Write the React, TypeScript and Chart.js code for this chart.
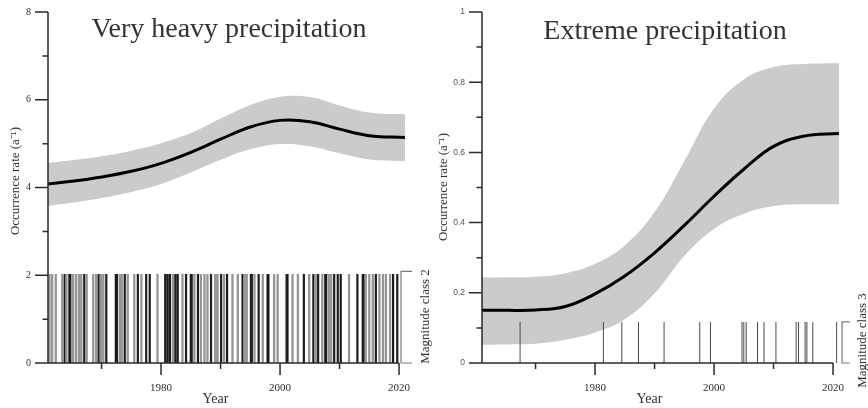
import React, { useEffect, useRef } from "react";
import { Chart, registerables } from "chart.js";

Chart.register(...registerables);

// ---------- data ----------
const curveYears = [1961, 1965, 1970, 1975, 1980, 1985, 1990, 1995, 2000, 2005, 2010, 2015, 2021];

const heavyMean = [4.08, 4.14, 4.24, 4.37, 4.55, 4.8, 5.1, 5.38, 5.53, 5.5, 5.33, 5.18, 5.14];
const heavyUpper = [4.56, 4.62, 4.71, 4.84, 5.01, 5.24, 5.57, 5.88, 6.07, 6.06, 5.87, 5.71, 5.67];
const heavyLower = [3.58, 3.65, 3.76, 3.9, 4.08, 4.34, 4.63, 4.87, 4.99, 4.94, 4.78, 4.64, 4.6];

const extremeMean = [0.15, 0.15, 0.151, 0.161, 0.197, 0.248, 0.314, 0.392, 0.475, 0.552, 0.617, 0.646, 0.654];
const extremeUpper = [0.243, 0.244, 0.246, 0.256, 0.283, 0.335, 0.43, 0.575, 0.725, 0.808, 0.843, 0.852, 0.854];
const extremeLower = [0.052, 0.053, 0.055, 0.066, 0.087, 0.125, 0.198, 0.305, 0.382, 0.425, 0.447, 0.452, 0.452];

// event occurrences (magnitude class 2: very heavy)
const heavyEventsDark = [
  1963.8, 1964.6, 1964.75, 1967.1, 1969.5, 1970.8, 1972.4, 1972.6, 1973.9,
  1976.1, 1977.5, 1978.1, 1980.7, 1981.1, 1981.5, 1982.4, 1982.8, 1984.2, 1985.0, 1985.15,
  1986.2, 1988.4, 1990.1, 1991.1, 1993.7, 1995.1, 1995.25, 1996.4, 1997.9, 1998.05,
  2001.1, 2001.25, 2004.0, 2005.6, 2006.4, 2007.6, 2007.75, 2009.1, 2009.7, 2010.2,
  2013.0, 2013.9, 2014.05, 2016.1, 2019.0, 2019.7,
];
const heavyEventsLight = [
  1961.25, 1961.7, 1962.3, 1963.4, 1964.1, 1965.2, 1965.7, 1966.2, 1966.6, 1967.5,
  1968.6, 1969.1, 1969.9, 1970.3, 1973.1, 1973.4, 1974.4, 1975.5, 1976.7, 1979.4,
  1982.0, 1983.6, 1985.6, 1986.7, 1987.3, 1987.8, 1989.1, 1989.5, 1990.6, 1992.0,
  1992.9, 1994.0, 1994.4, 1995.7, 1997.1, 1999.0, 1999.6, 2002.1, 2003.0, 2004.9,
  2006.0, 2007.1, 2008.2, 2008.6, 2011.6, 2014.4, 2015.0, 2015.6, 2016.7, 2017.3,
  2017.8, 2018.5,
];
// event occurrences (magnitude class 3: extreme)
const extremeEvents = [
  1967.4, 1981.4, 1984.5, 1987.3, 1991.6, 1997.6, 1999.4, 2004.7, 2005.0, 2005.4,
  2007.3, 2008.4, 2010.4, 2013.8, 2014.2, 2015.3, 2015.6, 2016.6, 2020.6,
];
const heavyEventHeight = 2.03;
const extremeEventHeight = 0.117;
const heavyClassTop = 2.09;
const extremeClassTop = 0.117;

// axes
const xMin = 1961;
const xMax = 2021;
const xAxisEnd = 2020;
const xMajorTicks = [1980, 2000, 2020];
const xMinorTicks = [1970, 1990, 2010];
const heavyYMajor = [0, 2, 4, 6, 8];
const heavyYMinor = [1, 3, 5, 7];
const heavyYLabels = ["0", "2", "4", "6", "8"];
const extremeYMajor = [0, 0.2, 0.4, 0.6, 0.8, 1];
const extremeYMinor = [0.1, 0.3, 0.5, 0.7, 0.9];
const extremeYLabels = ["0", "0.2", "0.4", "0.6", "0.8", "1"];

// ---------- helpers ----------
const SERIF = '"Liberation Serif", "Times New Roman", serif';
const SANS = '"Liberation Sans", Arial, sans-serif';
const AXIS = "#2a2a2a";
const TEXT = "#2e2e2e";
const BAND = "#cbcbcb";

function series(ys: number[]) {
  return curveYears.map((x, i) => ({ x, y: ys[i] }));
}
function eventSegments(years: number[], h: number) {
  const pts: { x: number; y: number | null }[] = [];
  years.forEach((e) => {
    pts.push({ x: e, y: 0 }, { x: e, y: h }, { x: e, y: null });
  });
  return pts;
}

type Spec = {
  title: string;
  titleX: number;
  titleBaseline: number;
  yMax: number;
  yMajor: number[];
  yMinor: number[];
  yLabels: string[];
  yFont: string;
  yColor: string;
  yTitleX: number;
  yTitleY: number;
  classLabel: string;
  classTop: number;
  bracketOffset: number;
  bracketWidth: number;
  classLabelX: number;
  classLabelY: number;
  datasets: any[];
};

function panelPlugin(spec: Spec) {
  return {
    id: "panelDecor",
    afterDraw(chart: any) {
      const { ctx, chartArea, scales } = chart;
      const x = scales.x;
      const y = scales.y;
      const x0 = x.getPixelForValue(xMin);
      const y0 = y.getPixelForValue(0);
      ctx.save();
      // bracket
      const bx = x.getPixelForValue(xAxisEnd) + spec.bracketOffset;
      const bt = y.getPixelForValue(spec.classTop);
      ctx.strokeStyle = "#7a7a7a";
      ctx.lineWidth = 1.2;
      ctx.beginPath();
      ctx.moveTo(bx + spec.bracketWidth, bt);
      ctx.lineTo(bx, bt);
      ctx.lineTo(bx, y0);
      ctx.lineTo(bx + spec.bracketWidth, y0);
      ctx.stroke();

      // axes
      ctx.strokeStyle = AXIS;
      ctx.lineWidth = 1.5;
      ctx.beginPath();
      ctx.moveTo(x0, y.getPixelForValue(spec.yMax));
      ctx.lineTo(x0, y0);
      ctx.lineTo(x.getPixelForValue(xAxisEnd), y0);
      spec.yMajor.forEach((v) => {
        const py = y.getPixelForValue(v);
        ctx.moveTo(x0 - 13, py);
        ctx.lineTo(x0, py);
      });
      spec.yMinor.forEach((v) => {
        const py = y.getPixelForValue(v);
        ctx.moveTo(x0 - 5.5, py);
        ctx.lineTo(x0, py);
      });
      xMajorTicks.forEach((v) => {
        const px = x.getPixelForValue(v);
        ctx.moveTo(px, y0);
        ctx.lineTo(px, y0 + 12);
      });
      xMinorTicks.forEach((v) => {
        const px = x.getPixelForValue(v);
        ctx.moveTo(px, y0);
        ctx.lineTo(px, y0 + 6);
      });
      ctx.stroke();

      // y tick labels
      ctx.fillStyle = spec.yColor;
      ctx.font = spec.yFont;
      ctx.textAlign = "right";
      ctx.textBaseline = "middle";
      spec.yMajor.forEach((v, i) => {
        ctx.fillText(spec.yLabels[i], x0 - 17, y.getPixelForValue(v));
      });

      // x tick labels
      ctx.fillStyle = TEXT;
      ctx.font = `11px ${SERIF}`;
      ctx.textAlign = "center";
      ctx.textBaseline = "alphabetic";
      xMajorTicks.forEach((v) => {
        ctx.fillText(String(v), x.getPixelForValue(v), y0 + 28);
      });
      ctx.font = `14px ${SERIF}`;
      ctx.fillText("Year", chartArea.left + 167.5, y0 + 40);

      // title
      ctx.font = `28px ${SERIF}`;
      ctx.fillStyle = "#333";
      ctx.fillText(spec.title, spec.titleX, spec.titleBaseline);

      // rotated labels
      ctx.fillStyle = TEXT;
      ctx.font = `13px ${SERIF}`;
      ctx.textBaseline = "middle";
      ctx.save();
      ctx.translate(spec.yTitleX, spec.yTitleY);
      ctx.rotate(-Math.PI / 2);
      ctx.fillText("Occurrence rate (a\u207B\u00B9)", 0, 0);
      ctx.restore();
      ctx.save();
      ctx.translate(spec.classLabelX, spec.classLabelY);
      ctx.rotate(-Math.PI / 2);
      ctx.fillText(spec.classLabel, 0, 0);
      ctx.restore();

      ctx.restore();
    },
  };
}

function bandDatasets(upper: number[], lower: number[], mean: number[]) {
  const smooth = { cubicInterpolationMode: "default", tension: 0.4 };
  return [
    {
      data: series(upper),
      borderWidth: 0,
      borderColor: "rgba(0,0,0,0)",
      backgroundColor: BAND,
      fill: "+1",
      ...smooth,
      order: 10,
    },
    {
      data: series(lower),
      borderWidth: 0,
      borderColor: "rgba(0,0,0,0)",
      fill: false,
      ...smooth,
      order: 9,
    },
    {
      data: series(mean),
      borderWidth: 3,
      borderColor: "#000",
      fill: false,
      ...smooth,
      order: 5,
    },
  ];
}

function eventDataset(years: number[], h: number, color: string, width: number) {
  return {
    data: eventSegments(years, h),
    borderWidth: width,
    borderColor: color,
    fill: false,
    tension: 0,
    spanGaps: false,
    order: 1,
  };
}

const heavySpec: Spec = {
  title: "Very heavy precipitation",
  titleX: 229,
  titleBaseline: 37,
  yMax: 8,
  yMajor: heavyYMajor,
  yMinor: heavyYMinor,
  yLabels: heavyYLabels,
  yFont: `10px ${SERIF}`,
  yColor: TEXT,
  yTitleX: 16,
  yTitleY: 181,
  classLabel: "Magnitude class 2",
  classTop: heavyClassTop,
  bracketOffset: 2,
  bracketWidth: 11,
  classLabelX: 425.5,
  classLabelY: 316.5,
  datasets: [
    ...bandDatasets(heavyUpper, heavyLower, heavyMean),
    eventDataset(heavyEventsLight, heavyEventHeight, "#959595", 2.3),
    eventDataset(heavyEventsDark, heavyEventHeight, "#1c1c1c", 2.2),
  ],
};

const extremeSpec: Spec = {
  title: "Extreme precipitation",
  titleX: 231,
  titleBaseline: 39,
  yMax: 1,
  yMajor: extremeYMajor,
  yMinor: extremeYMinor,
  yLabels: extremeYLabels,
  yFont: `8.5px ${SANS}`,
  yColor: "#555",
  yTitleX: 10,
  yTitleY: 187,
  classLabel: "Magnitude class 3",
  classTop: extremeClassTop,
  bracketOffset: 9,
  bracketWidth: 8,
  classLabelX: 429,
  classLabelY: 340.5,
  datasets: [
    ...bandDatasets(extremeUpper, extremeLower, extremeMean),
    eventDataset(extremeEvents, extremeEventHeight, "#4a4a4a", 1),
  ],
};

function Panel({ spec, left }: { spec: Spec; left: number }) {
  const ref = useRef<HTMLCanvasElement>(null);
  useEffect(() => {
    if (!ref.current) return;
    const chart = new Chart(ref.current, {
      type: "line",
      data: { datasets: spec.datasets },
      options: {
        animation: false,
        responsive: false,
        maintainAspectRatio: false,
        devicePixelRatio: 1,
        layout: { padding: { left: 48, right: 29, top: 12, bottom: 45 } },
        elements: { point: { radius: 0, hoverRadius: 0 } },
        plugins: {
          legend: { display: false },
          tooltip: { enabled: false },
          title: { display: false },
        },
        events: [],
        scales: {
          x: { type: "linear", min: xMin, max: xMax, display: false },
          y: { type: "linear", min: 0, max: spec.yMax, display: false },
        },
      } as any,
      plugins: [panelPlugin(spec)],
    });
    return () => chart.destroy();
  }, [spec]);
  return (
    <canvas
      ref={ref}
      width={434}
      height={408}
      style={{ position: "absolute", left, top: 0, width: 434, height: 408 }}
    />
  );
}

export default function App() {
  return (
    <div style={{ position: "absolute", left: 0, top: 0, width: 868, height: 408, background: "#fff" }}>
      <Panel spec={heavySpec} left={0} />
      <Panel spec={extremeSpec} left={434} />
    </div>
  );
}
